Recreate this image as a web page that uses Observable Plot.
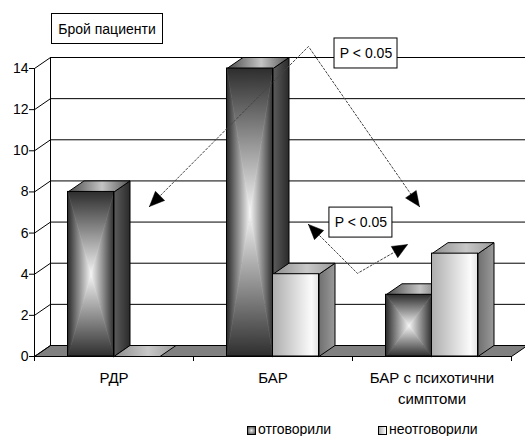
<!DOCTYPE html>
<html><head><meta charset="utf-8">
<script src="https://cdn.jsdelivr.net/npm/d3@7"></script>
<script src="https://cdn.jsdelivr.net/npm/@observablehq/plot@0.6"></script>
<style>
body{margin:0;background:#fff;font-family:"Liberation Sans",Arial,sans-serif;}
#wrap{position:relative;width:525px;height:436px;overflow:hidden;}
#title{position:absolute;left:51px;top:13px;width:112px;height:31px;box-sizing:border-box;border:1px solid #000;background:#fff;display:flex;align-items:center;justify-content:center;font-size:14px;color:#000;}
.lg{position:absolute;top:422px;font-size:14px;line-height:14px;color:#000;white-space:nowrap;}
.sq{position:absolute;top:426px;width:9px;height:9px;box-sizing:border-box;border:1px solid #000;}
</style></head>
<body>
<svg width="0" height="0" style="position:absolute">
<defs>
<linearGradient id="dT" x1="0" y1="0" x2="0" y2="1"><stop offset="0" stop-color="#2e2e2e"/><stop offset="1" stop-color="#f4f4f4"/></linearGradient>
<linearGradient id="dB" x1="0" y1="0" x2="0" y2="1"><stop offset="0" stop-color="#f4f4f4"/><stop offset="1" stop-color="#2e2e2e"/></linearGradient>
<linearGradient id="dL" x1="0" y1="0" x2="1" y2="0"><stop offset="0" stop-color="#2e2e2e"/><stop offset="1" stop-color="#f4f4f4"/></linearGradient>
<linearGradient id="dR" x1="0" y1="0" x2="1" y2="0"><stop offset="0" stop-color="#f4f4f4"/><stop offset="1" stop-color="#2e2e2e"/></linearGradient>
<linearGradient id="dTop" x1="0" y1="0" x2="1" y2="0"><stop offset="0" stop-color="#4a4a4a"/><stop offset="0.55" stop-color="#c4c4c4"/><stop offset="1" stop-color="#555"/></linearGradient>
<linearGradient id="dSide" x1="0" y1="0" x2="1" y2="0"><stop offset="0" stop-color="#5c5c5c"/><stop offset="1" stop-color="#2a2a2a"/></linearGradient>
<linearGradient id="lFront" x1="0" y1="0" x2="1" y2="0"><stop offset="0" stop-color="#adadad"/><stop offset="0.85" stop-color="#fbfbfb"/><stop offset="1" stop-color="#e4e4e4"/></linearGradient>
<linearGradient id="lTop" x1="0" y1="0" x2="1" y2="0"><stop offset="0" stop-color="#8e8e8e"/><stop offset="0.55" stop-color="#c8c8c8"/><stop offset="1" stop-color="#9a9a9a"/></linearGradient>
<linearGradient id="lSide" x1="0" y1="0" x2="1" y2="0"><stop offset="0" stop-color="#707070"/><stop offset="1" stop-color="#9a9a9a"/></linearGradient>
</defs></svg>
<div id="wrap">
<div id="chart"></div>
<div id="title"></div>
<div class="sq" style="left:247px;background:radial-gradient(circle,#eeeeee 0%,#444 100%);"></div>
<div class="lg" id="lg0" style="left:258px;"></div>
<div class="sq" style="left:378px;background:linear-gradient(to right,#aaa,#fff);"></div>
<div class="lg" id="lg1" style="left:389px;"></div>
</div>
<script>
// ---- data ----
const categories = ["РДР", "БАР", "БАР с психотични\nсимптоми"];
const series = ["отговорили", "неотговорили"];
const responded = [8, 14, 3];
const notResponded = [0, 4, 5];
const yTicks = [0, 2, 4, 6, 8, 10, 12, 14];
const yTitle = "Брой пациенти";
const pLabel = "P < 0.05";
// annotations in data units: [category position, patients]
const arrow1 = [[0.723, 7.29], [1.723, 15.07], [2.421, 7.29]];
const arrow2 = [[1.723, 6.42], [2.031, 4.04], [2.346, 5.44]];
const pBoxes = [[2.085, 14.73], [2.053, 6.51]];

// ---- layout ----
const W = 525, H = 418, mL = 34, mR = 14, mT = 68, mB = 62;
const kx = (W - mL - mR) / categories.length;
const ky = (H - mT - mB) / 14;
const DX = 16 / kx, DY = 11 / ky;
const OFF = 33.5 / kx, BW = 46 / kx;
const toPx = ([x, y]) => [mL + x * kx, (H - mB) - y * ky];
const toData = ([X, Y]) => [(X - mL) / kx, ((H - mB) - Y) / ky];

const bars = [];
categories.forEach((c, i) => {
  [responded[i], notResponded[i]].forEach((v, s) => {
    const x0 = i + OFF + s * BW;
    bars.push({i, s, v, x0, x1: x0 + BW});
  });
});
let pid = 0;
const poly = (pts, close = true) => { const id = pid++; return (close ? pts.concat([pts[0]]) : pts).map(([x, y]) => ({x, y, id})); };
const side = b => poly([[b.x1, 0], [b.x1 + DX, DY], [b.x1 + DX, b.v + DY], [b.x1, b.v]]);
const topF = b => poly([[b.x0, b.v], [b.x1, b.v], [b.x1 + DX, b.v + DY], [b.x0 + DX, b.v + DY]]);
const tri = (b, w) => {
  const xc = (b.x0 + b.x1) / 2, yc = b.v / 2;
  if (w === "T") return poly([[b.x0, b.v], [b.x1, b.v], [xc, yc]]);
  if (w === "B") return poly([[b.x0, 0], [b.x1, 0], [xc, yc]]);
  if (w === "L") return poly([[b.x0, 0], [b.x0, b.v], [xc, yc]]);
  return poly([[b.x1, 0], [b.x1, b.v], [xc, yc]]);
};
const darkB = bars.filter(b => b.s === 0 && b.v > 0);
const lightB = bars.filter(b => b.s === 1 && b.v > 0);
const lightAll = bars.filter(b => b.s === 1);

const face = (data, fill, stroke = "#000", sw = 1) =>
  Plot.line(data, {x: "x", y: "y", z: "id", fill, stroke, strokeWidth: sw, strokeLinejoin: "miter", curve: "linear"});

function head(P, T) {
  const [px, py] = toPx(P), [tx, ty] = toPx(T);
  const L = Math.hypot(tx - px, ty - py), ux = (tx - px) / L, uy = (ty - py) / L;
  const len = 15, w = 6.5;
  const bx = tx - ux * len, by = ty - uy * len;
  return poly([[tx, ty], [bx - uy * w, by + ux * w], [bx + uy * w, by - ux * w]].map(toData));
}
const heads = [
  ...head(arrow1[1], arrow1[0]), ...head(arrow1[1], arrow1[2]),
  ...head(arrow2[1], arrow2[0]), ...head(arrow2[1], arrow2[2])
];
const dash = [...poly(arrow1, false), ...poly(arrow2, false)];
const floor = poly([[0, 0], [3, 0], [3 + DX, DY], [DX, DY]]);
const bw2 = 31.5 / kx, bh2 = 15 / ky;

const chart = Plot.plot({
  width: W, height: H, marginLeft: mL, marginRight: mR, marginTop: mT, marginBottom: mB,
  x: {domain: [0, 3]},
  y: {domain: [0, 14]},
  style: {fontFamily: "'Liberation Sans', Arial, sans-serif", fontSize: "14px", color: "#000", background: "transparent", overflow: "visible"},
  marks: [
    face(floor, "#808080"),
    Plot.ruleY(yTicks, {y: d => d + DY, x1: DX, x2: 3 + DX + 0.2, stroke: "#000", strokeWidth: 1}),
    Plot.link(yTicks, {x1: 0, y1: d => d, x2: DX, y2: d => d + DY, stroke: "#000", strokeWidth: 1}),
    Plot.ruleX([DX], {y1: DY, y2: 14 + DY, stroke: "#000", strokeWidth: 1}),
    Plot.ruleX([0], {y1: 0, y2: 14, stroke: "#000", strokeWidth: 1}),
    face(darkB.flatMap(side), "url(#dSide)"),
    face(lightB.flatMap(side), "url(#lSide)"),
    face(darkB.flatMap(topF), "url(#dTop)"),
    face(lightAll.flatMap(topF), "url(#lTop)"),
    face(darkB.map(b => tri(b, "T")).flat(), "url(#dT)", "url(#dT)", 0.6),
    face(darkB.map(b => tri(b, "B")).flat(), "url(#dB)", "url(#dB)", 0.6),
    face(darkB.map(b => tri(b, "L")).flat(), "url(#dL)", "url(#dL)", 0.6),
    face(darkB.map(b => tri(b, "R")).flat(), "url(#dR)", "url(#dR)", 0.6),
    Plot.rect(darkB, {x1: "x0", x2: "x1", y1: 0, y2: "v", fill: "none", stroke: "#000", strokeWidth: 1}),
    Plot.rect(lightB, {x1: "x0", x2: "x1", y1: 0, y2: "v", fill: "url(#lFront)", stroke: "#000", strokeWidth: 1}),
    Plot.ruleY([0], {x1: 0, x2: 3, stroke: "#000", strokeWidth: 1}),
    Plot.line(dash, {x: "x", y: "y", z: "id", stroke: "#444", strokeWidth: 1, strokeDasharray: "2,2"}),
    Plot.line(heads, {x: "x", y: "y", z: "id", fill: "#000", stroke: "#000", strokeWidth: 0.5}),
    Plot.rect(pBoxes, {x1: d => d[0] - bw2, x2: d => d[0] + bw2, y1: d => d[1] - bh2, y2: d => d[1] + bh2, fill: "#fff", stroke: "#000", strokeWidth: 1}),
    Plot.text(pBoxes, {x: d => d[0], y: d => d[1], text: () => pLabel, fontSize: 14, fill: "#000"}),
    Plot.axisY({ticks: yTicks, tickSize: 5, tickPadding: 1, fontSize: 14, label: null, anchor: "left"}),
    Plot.axisX({ticks: [0.5, 1.5, 2.5], tickFormat: d => categories[Math.floor(d)], tickSize: 0, tickPadding: 12, fontSize: 15, lineHeight: 1.4, label: null}),
    Plot.axisX({ticks: [0, 1, 2, 3], tickFormat: () => "", tickSize: 5, label: null})
  ]
});
document.getElementById("chart").appendChild(chart);
document.getElementById("title").textContent = yTitle;
document.getElementById("lg0").textContent = series[0];
document.getElementById("lg1").textContent = series[1];
</script>
</body></html>
